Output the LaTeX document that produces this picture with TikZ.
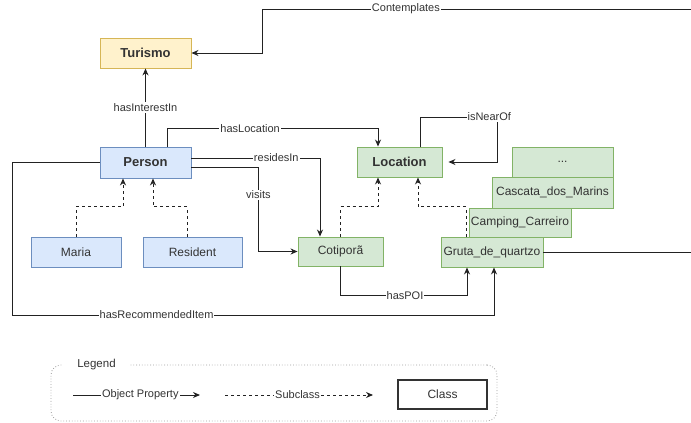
\documentclass[tikz,border=0pt]{standalone}
\usepackage{fontspec}
\setmainfont{Liberation Sans}
\usetikzlibrary{arrows.meta,calc}

\definecolor{blueFill}{HTML}{DAE8FC}
\definecolor{blueLine}{HTML}{6C8EBF}
\definecolor{greenFill}{HTML}{D5E8D4}
\definecolor{greenLine}{HTML}{82B366}
\definecolor{yellowFill}{HTML}{FFF2CC}
\definecolor{yellowLine}{HTML}{D6B656}
\definecolor{ink}{HTML}{222222}
\definecolor{txt}{HTML}{333333}

\tikzset{
  cls/.style={draw, line width=0.9pt, inner sep=0pt, text=txt,
    font=\fontsize{12}{14}\selectfont},
  mainbox/.style={cls, font=\fontsize{13}{15}\selectfont\bfseries},
  bluebox/.style={fill=blueFill, draw=blueLine},
  greenbox/.style={fill=greenFill, draw=greenLine},
  yellowbox/.style={fill=yellowFill, draw=yellowLine},
  op/.style={draw=ink, line width=0.9pt, -{Stealth[length=7pt,width=6pt]}},
  subcls/.style={op, dash pattern=on 3pt off 3pt},
  elabel/.style={fill=white, inner sep=1pt, text=txt,
    font=\fontsize{11}{12}\selectfont},
  legendframe/.style={draw=gray!75, dotted, line width=0.8pt,
    rounded corners=10pt, inner sep=0pt},
  legendtitle/.style={fill=white, inner sep=0pt, minimum width=67pt,
    minimum height=12pt, text=txt, font=\fontsize{11.5}{13}\selectfont},
  classkey/.style={cls, fill=white, draw=txt, line width=1.2pt},
}

\begin{document}
\begin{tikzpicture}[x=1pt,y=-1pt]
\useasboundingbox (0,0) rectangle (691,423);

% ---- classes and individuals ----
\node[mainbox, yellowbox, minimum width=91pt, minimum height=30pt] (turismo) at (145.5,53) {Turismo};
\node[mainbox, bluebox, minimum width=91pt, minimum height=31pt] (person) at (145.5,162.5) {Person};
\node[mainbox, greenbox, minimum width=85pt, minimum height=30pt] (location) at (399.5,162) {Location};

\node[cls, bluebox, minimum width=90pt, minimum height=30pt] (maria) at (76,252) {Maria};
\node[cls, bluebox, minimum width=99pt, minimum height=30pt] (resident) at (192.5,252) {Resident};
\node[cls, greenbox, minimum width=85pt, minimum height=29pt] (cotipora) at (340.5,251.5) {Cotiporã};

% stacked points of interest
\node[cls, greenbox, minimum width=101pt, minimum height=30pt] (more) at (562.5,162) {...};
\node[cls, greenbox, minimum width=121pt, minimum height=31pt] (cascata) at (552.5,192.5) {Cascata\_dos\_Marins};
\node[cls, greenbox, minimum width=102pt, minimum height=29pt] (camping) at (520,222.5) {Camping\_Carreiro};
\node[cls, greenbox, minimum width=102pt, minimum height=30pt] (gruta) at (492,252) {Gruta\_de\_quartzo};

% ---- routing points ----
\coordinate (cR1) at (698,252);
\coordinate (cR2) at (698,9);
\coordinate (cT) at (262,9);
\coordinate (nearC) at (497,117);
\coordinate (recC) at (12,315);

% ---- object properties ----
\draw[op] (person.north) -- node[elabel]{hasInterestIn} (turismo.south);
\draw[op] (gruta.east) -- (cR1) -- (cR2) -- node[elabel,pos=0.67]{Contemplates} (cT) |- (turismo.east);
\draw[op] ([xshift=21.5pt]person.north) -- ++(0,-18) -| node[elabel,pos=0.197]{hasLocation} ([xshift=-21.5pt]location.north);
\draw[op, shorten >=6pt] ([xshift=20.5pt]location.north) |- node[elabel,pos=0.95]{isNearOf} (nearC) |- (location.east);
\draw[op] ([yshift=4.5pt]person.east) -| node[elabel,pos=0.33]{residesIn} ([xshift=-20.5pt]cotipora.north);
\draw[op] ([yshift=-4.5pt]person.east) -- ++(67,0) |- node[elabel,pos=0.166]{visits} (cotipora.west);
\draw[op] (person.west) -| (recC) -| node[elabel,pos=0.15]{hasRecommendedItem} ([xshift=2pt]gruta.south);
\draw[op] (cotipora.south) -- ++(0,29) -| node[elabel,pos=0.255]{hasPOI} ([xshift=-25pt]gruta.south);

% ---- subclass links ----
\draw[subcls] (maria.north) -- ++(0,-30) -| ([xshift=-22.5pt]person.south);
\draw[subcls] ([xshift=-5.5pt]resident.north) -- ++(0,-30) -| ([xshift=7.5pt]person.south);
\draw[subcls] (cotipora.north) -- ++(0,-30) -| ([xshift=-21.5pt]location.south);
\draw[subcls] ([xshift=-26pt]gruta.north) -- ++(0,-30) -| ([xshift=18.5pt]location.south);

% ---- legend ----
\node[legendframe, minimum width=446pt, minimum height=56pt] (legend) at (274,393) {};
\node[legendtitle] (legendtitle) at (96.5,365) {Legend};
\coordinate (opA) at (73,395);
\coordinate (opB) at (200,395);
\coordinate (scA) at (225,395);
\coordinate (scB) at (373,395);
\draw[op] (opA) -- node[elabel,pos=0.53]{Object Property} (opB);
\draw[subcls] (scA) -- node[elabel,pos=0.49]{Subclass} (scB);
\node[classkey, minimum width=89pt, minimum height=29pt] (classkey) at (442.5,394.5) {Class};
\end{tikzpicture}
\end{document}
